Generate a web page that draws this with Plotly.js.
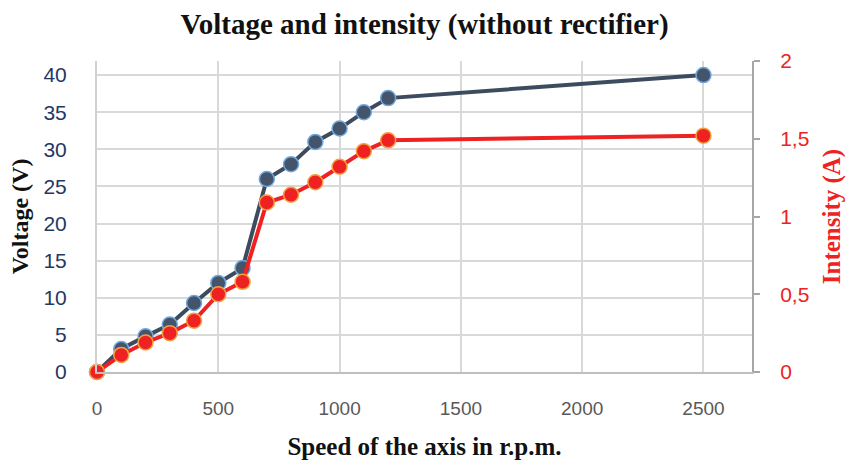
<!DOCTYPE html>
<html>
<head>
<meta charset="utf-8">
<script src="https://cdn.plot.ly/plotly-3.0.1.min.js"></script>
<style>html,body{margin:0;padding:0;background:#fff;}#chart{width:849px;height:468px;}</style>
</head>
<body>
<div id="chart"></div>
<script>
const speed = [0, 100, 200, 300, 400, 500, 600, 700, 800, 900, 1000, 1100, 1200, 2500];
const voltage = [0, 3.1, 4.8, 6.4, 9.3, 12.0, 14.0, 26.0, 28.0, 31.0, 32.8, 35.0, 36.9, 40.0];
const intensity = [0, 0.11, 0.19, 0.25, 0.33, 0.5, 0.58, 1.09, 1.14, 1.22, 1.32, 1.42, 1.49, 1.52];
const xTicks = [0, 500, 1000, 1500, 2000, 2500];
const vTicks = [0, 5, 10, 15, 20, 25, 30, 35, 40];
const iTicks = [0, 0.5, 1, 1.5, 2];

const tickFont = "Liberation Sans Narrow, Liberation Sans, Arial, sans-serif";
const serif = "Liberation Serif, Times New Roman, serif";

const traces = [
  {
    x: speed, y: voltage, name: 'Voltage', type: 'scatter', mode: 'lines+markers',
    line: {color: '#3d4b5f', width: 4},
    marker: {size: 15, color: '#44546a', line: {color: '#6fa8dc', width: 1.5}},
    yaxis: 'y', cliponaxis: false
  },
  {
    x: speed, y: intensity, name: 'Intensity', type: 'scatter', mode: 'lines+markers',
    line: {color: '#ee2222', width: 4},
    marker: {size: 15, color: '#ee2222', line: {color: '#f4a040', width: 1.5}},
    yaxis: 'y2', cliponaxis: false
  }
];

const layout = {
  width: 849, height: 468,
  margin: {l: 97, r: 97, t: 61, b: 96},
  paper_bgcolor: '#fff', plot_bgcolor: '#fff',
  showlegend: false,
  separators: ',.',
  title: {
    text: '<b>Voltage and intensity (without rectifier)</b>',
    font: {family: serif, size: 29, color: '#111'},
    x: 0.5, xanchor: 'center', y: 0.95, yanchor: 'middle'
  },
  xaxis: {
    range: [0, 2700], tickvals: xTicks, ticks: '',
    showgrid: true, gridcolor: '#d9d9d9', gridwidth: 2,
    showline: true, linecolor: '#bfbfbf', linewidth: 2,
    zeroline: false, ticklabelstandoff: 18,
    tickfont: {family: tickFont, size: 19, color: '#595959'},
    title: {text: '<b>Speed of the axis in r.p.m.</b>', font: {family: serif, size: 25, color: '#111'}, standoff: 20}
  },
  yaxis: {
    range: [0, 41.9], tickvals: vTicks, ticks: '',
    showgrid: true, gridcolor: '#d9d9d9', gridwidth: 2,
    showline: true, linecolor: '#d0d0d0', linewidth: 2,
    zeroline: false, ticklabelstandoff: 24,
    tickfont: {family: tickFont, size: 21, color: '#1f3864'},
    title: {text: '<b>Voltage (V)</b>', font: {family: serif, size: 24, color: '#111'}, standoff: 8}
  },
  yaxis2: {
    overlaying: 'y', side: 'right',
    range: [0, 2], tickvals: iTicks, ticks: 'outside', ticklen: 6, tickcolor: '#a6a6a6', tickwidth: 2,
    showgrid: false, zeroline: false, ticklabelstandoff: 16,
    showline: true, linecolor: '#a6a6a6', linewidth: 2,
    tickfont: {family: tickFont, size: 21, color: '#ee2222'},
    title: {text: '<b>Intensity (A)</b>', font: {family: serif, size: 25, color: '#ee2222'}, standoff: 14}
  }
};

Plotly.newPlot('chart', traces, layout, {displayModeBar: false, staticPlot: true});
</script>
</body>
</html>
